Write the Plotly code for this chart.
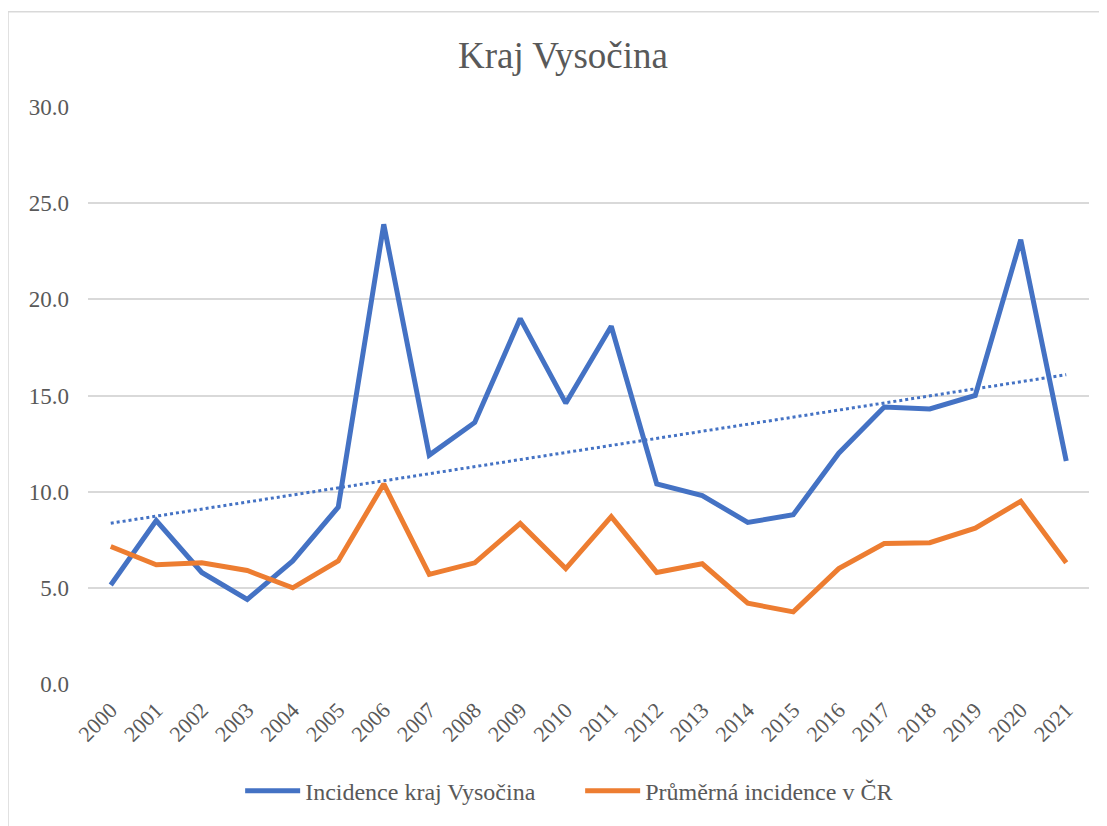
import numpy as np
import plotly.graph_objects as go

years = [str(y) for y in range(2000, 2022)]
vysocina = [5.15, 8.5, 5.8, 4.4, 6.4, 9.2, 23.9, 11.9, 13.6, 19.0, 14.6, 18.6,
            10.4, 9.8, 8.4, 8.8, 12.0, 14.4, 14.3, 15.0, 23.1, 11.6]
cr_avg = [7.15, 6.2, 6.3, 5.9, 5.0, 6.4, 10.4, 5.7, 6.3, 8.35, 6.0, 8.7,
          5.8, 6.25, 4.2, 3.75, 6.0, 7.3, 7.35, 8.1, 9.5, 6.3]
y_ticks = [0, 5, 10, 15, 20, 25, 30]

idx = np.arange(len(years))
slope, intercept = np.polyfit(idx, vysocina, 1)
trend = slope * idx + intercept

FONT = "Times New Roman, Liberation Serif, DejaVu Serif, serif"
GREY = "#595959"
W, H = 1099, 818

fig = go.Figure()
fig.add_trace(go.Scatter(x=years, y=vysocina, mode="lines", name="Incidence kraj Vysočina",
                         line=dict(color="#4472C4", width=5)))
fig.add_trace(go.Scatter(x=years, y=cr_avg, mode="lines", name="Průměrná incidence v ČR",
                         line=dict(color="#ED7D31", width=5)))
fig.add_trace(go.Scatter(x=years, y=trend, mode="lines", showlegend=False,
                         line=dict(color="#4472C4", width=3, dash="dot")))

fig.update_layout(
    width=W, height=H,
    margin=dict(l=80, r=18, t=99, b=137),
    paper_bgcolor="white", plot_bgcolor="white",
    font=dict(family=FONT, color=GREY, size=22),
    title=dict(text="Kraj Vysočina", x=0.505, xanchor="center", y=1 - 47 / H, yanchor="middle",
               font=dict(family=FONT, size=37, color=GREY)),
    legend=dict(orientation="h", x=0.152, xanchor="left", y=-0.1855, yanchor="middle",
                font=dict(family=FONT, size=24, color=GREY), itemwidth=55,
                entrywidth=270, entrywidthmode="pixels"),
    showlegend=True,
)
fig.update_xaxes(type="category", range=[-0.5, 21.5], tickangle=-45, showgrid=False,
                 showline=False, ticks="", ticklabelstandoff=8, automargin=False,
                 tickfont=dict(family=FONT, size=22, color=GREY))
fig.update_yaxes(range=[0, 30], tickvals=y_ticks, tickformat=".1f", showgrid=True,
                 gridcolor="#d9d9d9", gridwidth=1.5, zeroline=False, showline=False, ticks="",
                 ticklabelstandoff=18, automargin=False,
                 tickfont=dict(family=FONT, size=23, color=GREY))
fig.add_shape(type="rect", xref="paper", yref="paper", x0=-0.0799, x1=1.05, y0=-0.3, y1=1.165,
              line=dict(color="#d9d9d9", width=1.5), fillcolor="rgba(0,0,0,0)", layer="below")

fig.write_html("out.html")
